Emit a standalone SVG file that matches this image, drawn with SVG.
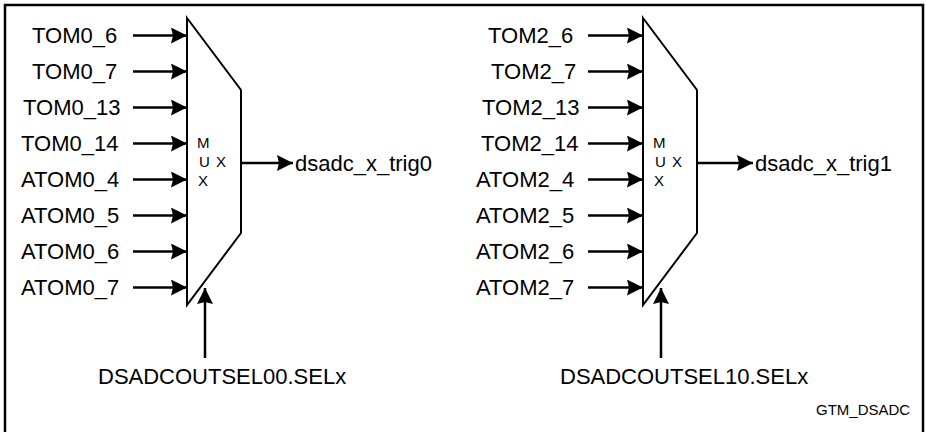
<svg xmlns="http://www.w3.org/2000/svg" width="926" height="432" viewBox="0 0 926 432">
<style>
.lbl{font-family:"Liberation Sans",Arial,sans-serif;font-size:22px;fill:#000}
.mx{font-family:"Liberation Sans",Arial,sans-serif;font-size:15px;fill:#000}
.tag{font-family:"Liberation Sans",Arial,sans-serif;font-size:15px;fill:#000}
.mux{fill:#fff;stroke:#000;stroke-width:2;stroke-linejoin:miter}
.wire{stroke:#000;stroke-width:2.5;fill:none;marker-end:url(#ah)}
</style>
<defs>
<marker id="ah" viewBox="0 0 16 16" refX="16" refY="8" markerWidth="16" markerHeight="16" markerUnits="userSpaceOnUse" orient="auto">
<path d="M0,0 L16,8 L0,16 L2,8 z" fill="#000"/>
</marker>
</defs>
<rect x="5" y="5" width="918" height="440" fill="#fff" stroke="#000" stroke-width="2.5"/>
<g id="mux0">
<polygon class="mux" points="187,18 241,90 241,233 187,305"/>
<text class="mx" x="197" y="148">M</text>
<text class="mx" x="199" y="167">U</text>
<text class="mx" x="216" y="167">X</text>
<text class="mx" x="198" y="186">X</text>
</g>
<g id="mux1">
<polygon class="mux" points="643,18 697,90 697,233 643,305"/>
<text class="mx" x="653" y="148">M</text>
<text class="mx" x="655" y="167">U</text>
<text class="mx" x="672" y="167">X</text>
<text class="mx" x="654" y="186">X</text>
</g>
<g id="inputs0">
<text class="lbl" x="32" y="43">TOM0_6</text>
<text class="lbl" x="32" y="79">TOM0_7</text>
<text class="lbl" x="23" y="115">TOM0_13</text>
<text class="lbl" x="21" y="151">TOM0_14</text>
<text class="lbl" x="21" y="187">ATOM0_4</text>
<text class="lbl" x="21" y="223">ATOM0_5</text>
<text class="lbl" x="21" y="259">ATOM0_6</text>
<text class="lbl" x="21" y="295">ATOM0_7</text>
</g>
<g id="inputs1">
<text class="lbl" x="488" y="43">TOM2_6</text>
<text class="lbl" x="491" y="79">TOM2_7</text>
<text class="lbl" x="482" y="115">TOM2_13</text>
<text class="lbl" x="481" y="151">TOM2_14</text>
<text class="lbl" x="476" y="187">ATOM2_4</text>
<text class="lbl" x="476" y="223">ATOM2_5</text>
<text class="lbl" x="476" y="259">ATOM2_6</text>
<text class="lbl" x="476" y="295">ATOM2_7</text>
</g>
<g id="outputs">
<text class="lbl" x="295" y="171">dsadc_x_trig0</text>
<text class="lbl" x="755" y="171">dsadc_x_trig1</text>
</g>
<g id="selects">
<text class="lbl" x="98" y="384">DSADCOUTSEL00.SELx</text>
<text class="lbl" x="560" y="384">DSADCOUTSEL10.SELx</text>
</g>
<g id="connectors">
<line class="wire" x1="133" y1="35.5" x2="187" y2="35.5"/>
<line class="wire" x1="133" y1="71.5" x2="187" y2="71.5"/>
<line class="wire" x1="133" y1="107.5" x2="187" y2="107.5"/>
<line class="wire" x1="133" y1="143.5" x2="187" y2="143.5"/>
<line class="wire" x1="133" y1="179.5" x2="187" y2="179.5"/>
<line class="wire" x1="133" y1="215.5" x2="187" y2="215.5"/>
<line class="wire" x1="133" y1="251.5" x2="187" y2="251.5"/>
<line class="wire" x1="133" y1="287.5" x2="187" y2="287.5"/>
<line class="wire" x1="588" y1="35.5" x2="643" y2="35.5"/>
<line class="wire" x1="588" y1="71.5" x2="643" y2="71.5"/>
<line class="wire" x1="588" y1="107.5" x2="643" y2="107.5"/>
<line class="wire" x1="588" y1="143.5" x2="643" y2="143.5"/>
<line class="wire" x1="588" y1="179.5" x2="643" y2="179.5"/>
<line class="wire" x1="588" y1="215.5" x2="643" y2="215.5"/>
<line class="wire" x1="588" y1="251.5" x2="643" y2="251.5"/>
<line class="wire" x1="588" y1="287.5" x2="643" y2="287.5"/>
<line class="wire" x1="241" y1="163" x2="293" y2="163"/>
<line class="wire" x1="697" y1="163" x2="753" y2="163"/>
<line class="wire" x1="205" y1="358" x2="205" y2="288"/>
<line class="wire" x1="661" y1="358" x2="661" y2="288"/>
</g>
<text class="tag" x="816" y="415">GTM_DSADC</text>
</svg>
